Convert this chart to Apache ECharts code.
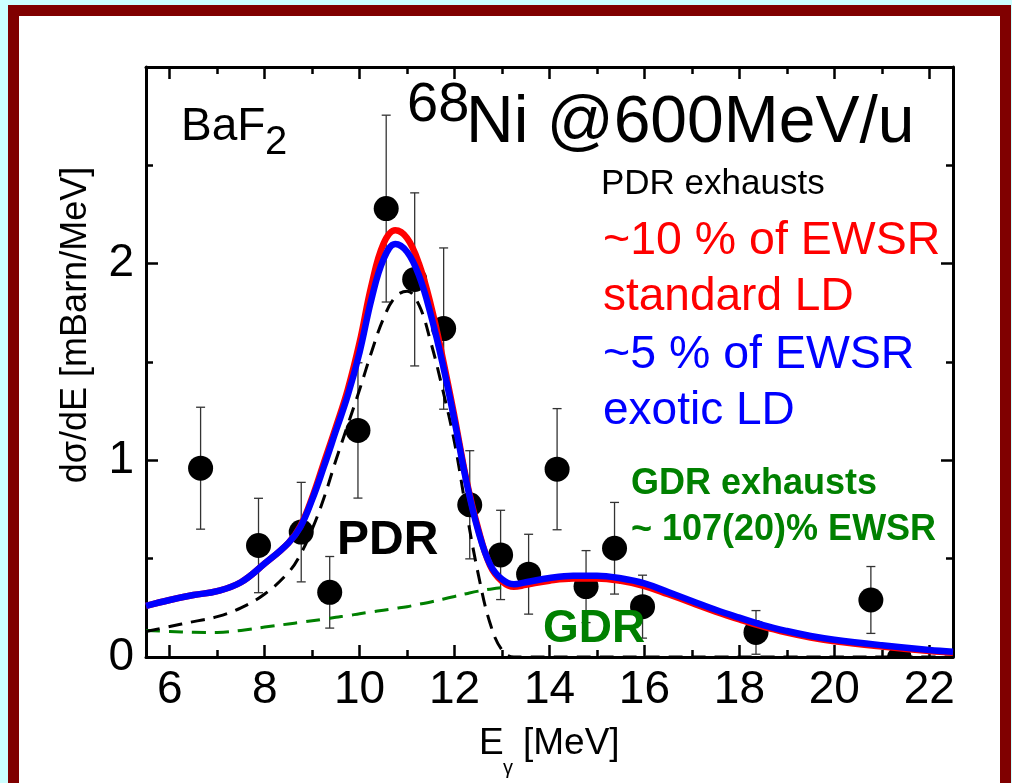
<!DOCTYPE html>
<html>
<head>
<meta charset="utf-8">
<script src="https://cdn.jsdelivr.net/npm/echarts@6/dist/echarts.min.js"></script>
<style>
  html, body { margin: 0; padding: 0; }
  body { width: 1012px; height: 783px; overflow: hidden; background: #ccffff; position: relative; }
  #frame { position: absolute; left: 8px; top: 5px; width: 1003px; height: 790px; box-sizing: border-box; border: 11px solid #800000; background: #ffffff; }
  #chart { position: absolute; left: 0; top: 0; width: 1012px; height: 783px; }
</style>
</head>
<body>
<div id="frame"></div>
<div id="chart"></div>
<script>
// ---------------- data ----------------
const xMajorTicks = [6, 8, 10, 12, 14, 16, 18, 20, 22];
const xMinorTicks = [7, 9, 11, 13, 15, 17, 19, 21];
const yTickLabels = [0, 1, 2];

// measured points: energy, dσ/dE, error
const ptX   = [6.65, 7.87, 8.77, 9.37, 9.965, 10.56, 11.16, 11.77, 12.32, 12.97, 13.56, 14.16, 14.77, 15.37, 15.96, 18.35, 20.77, 21.37];
const ptY   = [0.96, 0.567, 0.635, 0.329, 1.152, 2.28, 1.92, 1.67, 0.774, 0.519, 0.421, 0.955, 0.358, 0.553, 0.256, 0.125, 0.29, -0.005];
const ptErr = [0.31, 0.24, 0.253, 0.182, 0.344, 0.475, 0.44, 0.41, 0.275, 0.227, 0.203, 0.308, 0.183, 0.233, 0.16, 0.111, 0.17, 0.05];

// model curves sampled on a common energy grid
const curveX = [5.5, 6.0, 6.5, 7.0, 7.5, 8.0, 8.5, 8.75, 9.0, 9.25, 9.5, 9.75, 10.0, 10.25, 10.5, 10.75, 11.0, 11.25, 11.5, 11.75, 12.0, 12.25, 12.5, 12.75, 13.0, 13.25, 13.5, 14.0, 14.5, 15.0, 15.5, 16.0, 16.5, 17.0, 17.5, 18.0, 18.5, 19.0, 19.5, 20.0, 21.0, 22.0, 22.5];
// ~5 % of EWSR, exotic LD (blue)
const exoticLD = [0.26, 0.29, 0.315, 0.335, 0.38, 0.475, 0.58, 0.66, 0.80, 0.97, 1.15, 1.33, 1.55, 1.82, 2.02, 2.10, 2.06, 1.94, 1.74, 1.49, 1.20, 0.89, 0.64, 0.47, 0.395, 0.37, 0.38, 0.402, 0.413, 0.413, 0.40, 0.374, 0.33, 0.285, 0.24, 0.20, 0.162, 0.132, 0.107, 0.088, 0.06, 0.036, 0.027];
// ~10 % of EWSR, standard LD (red)
const standardLD = [0.26, 0.29, 0.315, 0.335, 0.38, 0.475, 0.58, 0.665, 0.81, 0.99, 1.17, 1.36, 1.60, 1.89, 2.10, 2.17, 2.13, 2.00, 1.79, 1.52, 1.22, 0.90, 0.65, 0.465, 0.385, 0.357, 0.367, 0.388, 0.399, 0.399, 0.387, 0.361, 0.319, 0.275, 0.231, 0.191, 0.154, 0.124, 0.099, 0.08, 0.053, 0.03, 0.022];
// PDR component (black dashed)
const pdrComp = [0.13, 0.155, 0.18, 0.205, 0.25, 0.32, 0.43, 0.52, 0.65, 0.81, 1.00, 1.18, 1.36, 1.55, 1.72, 1.83, 1.86, 1.79, 1.60, 1.36, 1.09, 0.74, 0.42, 0.17, 0.035, 0.0, 0.0, 0.0, 0.0, 0.0, 0.0, 0.0, 0.0, 0.0, 0.0, 0.0, 0.0, 0.0, 0.0, 0.0, 0.0, 0.0, 0.0];
// GDR component (green dashed)
const gdrComp = [0.135, 0.13, 0.126, 0.125, 0.135, 0.152, 0.168, 0.176, 0.184, 0.193, 0.202, 0.21, 0.22, 0.229, 0.238, 0.247, 0.256, 0.268, 0.28, 0.294, 0.308, 0.322, 0.335, 0.345, 0.352, 0.355, 0.367, 0.388, 0.399, 0.399, 0.387, 0.361, 0.319, 0.275, 0.231, 0.191, 0.154, 0.124, 0.099, 0.08, 0.053, 0.03, 0.022];

// ---------------- chart ----------------
const FONT = '"Liberation Sans", Arial, sans-serif';
const chart = echarts.init(document.getElementById('chart'), null, { renderer: 'canvas' });

const pair = (xs, ys) => xs.map((x, i) => [x, ys[i]]);
const gridPos = { left: 146, right: 59, top: 67, bottom: 126 };

function axisX(gridIndex, position, ticks, len, showLine, labels) {
  return {
    type: 'value', gridIndex, position, min: 5.5, max: 22.5,
    axisLine: { show: showLine, onZero: false, lineStyle: { color: '#000', width: 3 } },
    axisTick: { show: true, inside: true, length: len, customValues: ticks, lineStyle: { color: '#000', width: 2.5 } },
    axisLabel: labels ? { show: true, customValues: ticks, fontSize: 46, color: '#000', fontFamily: FONT, margin: 10 } : { show: false },
    splitLine: { show: false }
  };
}
function axisY(gridIndex, position, show, labels) {
  return {
    type: 'value', gridIndex, position, min: 0, max: 3, interval: 1, show,
    axisLine: { show: true, onZero: false, lineStyle: { color: '#000', width: 3 } },
    axisTick: { show: true, inside: true, length: 12, lineStyle: { color: '#000', width: 2.5 } },
    minorTick: { show: true, splitNumber: 2, length: 7, lineStyle: { color: '#000', width: 2.5 } },
    axisLabel: labels ? { show: true, customValues: yTickLabels, fontSize: 46, color: '#000', fontFamily: FONT, margin: 12 } : { show: false },
    splitLine: { show: false }
  };
}

function txt(text, x, baseline, size, color, weight, extra) {
  return Object.assign({
    type: 'text', x: x, y: baseline - 0.35 * size, z: 100,
    style: { text: text, fill: color, fontSize: size, fontFamily: FONT, fontWeight: weight || 'normal', align: 'left', verticalAlign: 'middle' }
  }, extra || {});
}

function curve(name, ys, color, width, dash, z) {
  return {
    name, type: 'line', xAxisIndex: 0, yAxisIndex: 0, data: pair(curveX, ys),
    smooth: 0.4, showSymbol: false, z, clip: true,
    lineStyle: { color, width, type: dash || 'solid', cap: 'butt', join: 'round' }
  };
}

const option = {
  animation: false,
  backgroundColor: 'transparent',
  grid: [Object.assign({}, gridPos), Object.assign({}, gridPos)],
  xAxis: [
    axisX(0, 'bottom', xMajorTicks, 12, true, true),
    axisX(0, 'top', xMajorTicks, 12, true, false),
    axisX(1, 'bottom', xMinorTicks, 7, false, false),
    axisX(1, 'top', xMinorTicks, 7, false, false)
  ],
  yAxis: [
    axisY(0, 'left', true, true),
    axisY(0, 'right', true, false),
    axisY(1, 'left', false, false)
  ],
  series: [
    {
      type: 'custom', xAxisIndex: 0, yAxisIndex: 0, clip: true, z: 1,
      data: ptX.map((x, i) => [x, ptY[i], ptErr[i]]),
      renderItem: function (params, api) {
        const x = api.value(0), y = api.value(1), e = api.value(2);
        const c = api.coord([x, y]);
        const t = api.coord([x, y + e]);
        const b = api.coord([x, y - e]);
        const cw = 4.5;
        const ls = { stroke: '#333', lineWidth: 1.3 };
        return {
          type: 'group',
          children: [
            { type: 'line', shape: { x1: c[0], y1: t[1], x2: c[0], y2: b[1] }, style: ls },
            { type: 'line', shape: { x1: c[0] - cw, y1: t[1], x2: c[0] + cw, y2: t[1] }, style: ls },
            { type: 'line', shape: { x1: c[0] - cw, y1: b[1], x2: c[0] + cw, y2: b[1] }, style: ls },
            { type: 'circle', shape: { cx: c[0], cy: c[1], r: 12.5 }, style: { fill: '#000' } }
          ]
        };
      }
    },
    curve('GDR', gdrComp, '#008000', 3, [14, 9], 2),
    curve('PDR', pdrComp, '#000000', 3, [14, 9], 3),
    curve('standard LD', standardLD, '#ff0000', 6.5, null, 4),
    curve('exotic LD', exoticLD, '#0000ff', 6.5, null, 5),
    { type: 'line', xAxisIndex: 2, yAxisIndex: 2, data: [], silent: true }
  ],
  graphic: [
    txt('BaF', 181, 143, 46, '#000'),
    txt('2', 265, 157, 40, '#000'),
    txt('68', 407, 125, 56, '#000'),
    txt('Ni @600MeV/u', 466, 147, 66, '#000'),
    txt('PDR exhausts', 601, 197, 35, '#000'),
    txt('~10 % of EWSR', 603, 257, 46.5, '#ff0000'),
    txt('standard LD', 603, 313, 46, '#ff0000'),
    txt('~5 % of EWSR', 603, 371, 46.5, '#0000ff'),
    txt('exotic LD', 603, 427, 46, '#0000ff'),
    txt('GDR exhausts', 631, 497, 36, '#008000', 'bold'),
    txt('~ 107(20)% EWSR', 631, 543, 36, '#008000', 'bold'),
    txt('PDR', 337, 558, 48, '#000', 'bold'),
    txt('GDR', 543, 645, 46, '#008000', 'bold'),
    txt('E', 479, 757, 37, '#000'),
    txt('γ', 503, 775, 20, '#000'),
    txt('[MeV]', 523, 757, 37, '#000'),
    {
      type: 'text', x: 76, y: 325, rotation: Math.PI / 2, z: 100,
      style: { text: 'dσ/dE [mBarn/MeV]', fill: '#000', fontSize: 36, fontFamily: FONT, align: 'center', verticalAlign: 'middle' }
    }
  ]
};
chart.setOption(option);
</script>
</body>
</html>
